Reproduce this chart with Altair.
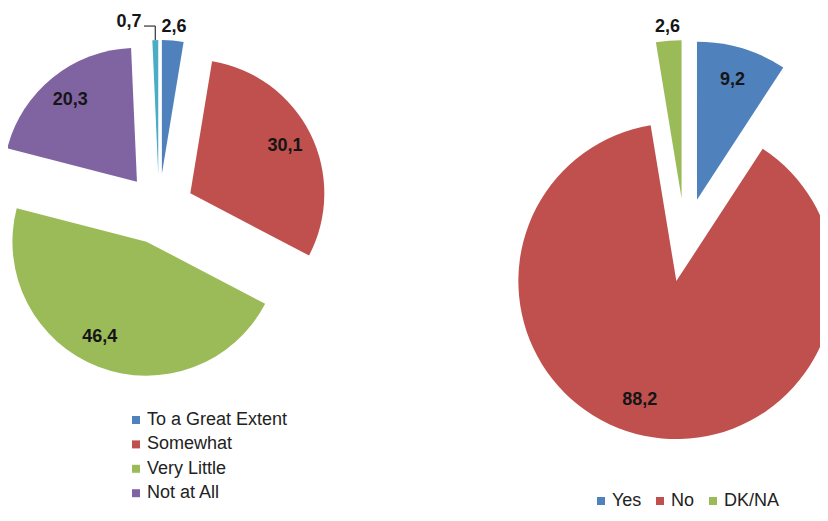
import altair as alt
import pandas as pd

# ---- data ----
left_categories = ["To a Great Extent", "Somewhat", "Very Little", "Not at All", "DK/NA"]
left_values = [2.6, 30.1, 46.4, 20.3, 0.7]
left_legend_items = ["To a Great Extent", "Somewhat", "Very Little", "Not at All"]

right_categories = ["Yes", "No", "DK/NA"]
right_values = [9.2, 88.2, 2.6]

# ---- styles ----
left_colors = ["#4F81BD", "#C0504D", "#9BBB59", "#8064A2", "#4BACC6"]
right_colors = ["#4F81BD", "#C0504D", "#9BBB59"]
FONT = "Liberation Sans"
MARGIN = 8
W, H = 812, 505
# pie layout in page pixels: centre x, centre y, radius, explosion distance
LEFT = dict(cx=159, cy=209, r=134, d=35)
RIGHT = dict(cx=685, cy=240, r=158, d=42)


def pie_base(cats, vals, lay):
    df = pd.DataFrame({"cat": cats, "value": vals, "order": list(range(len(cats)))})
    cx, cy, r, d = lay["cx"] - MARGIN, lay["cy"] - MARGIN, lay["r"], lay["d"]
    return (
        alt.Chart(df)
        .transform_window(cum="sum(value)", sort=[alt.SortField("order")], frame=[None, 0])
        .transform_joinaggregate(total="sum(value)")
        .transform_calculate(t0="2*PI*(datum.cum-datum.value)/datum.total")
        .transform_calculate(t1="2*PI*datum.cum/datum.total")
        .transform_calculate(mid="(datum.t0+datum.t1)/2")
        .transform_calculate(share="datum.value/datum.total")
        .transform_calculate(sx=f"{cx}+{d}*sin(datum.mid)")
        .transform_calculate(sy=f"{cy}-{d}*cos(datum.mid)")
        .transform_calculate(label="replace(format(datum.value, '.1f'), '.', ',')")
        .transform_calculate(lr=f"datum.share < 0.05 ? {r}+14 : {r}*0.79")
        .transform_calculate(la="datum.share > 0.4 ? datum.mid + 0.09 : datum.mid")
        .transform_calculate(
            lx="datum.sx + datum.lr*sin(datum.la) + (datum.share < 0.01 ? -26 : 0)"
        )
        .transform_calculate(
            ly="datum.sy - datum.lr*cos(datum.la) + (datum.share < 0.01 ? -4 : 0)"
        )
        .transform_calculate(tipx=f"datum.sx + {r}*sin(datum.mid)")
        .transform_calculate(tipy=f"datum.sy - {r}*cos(datum.mid)")
    )


def pie_layers(cats, vals, lay, colors, legend):
    base = pie_base(cats, vals, lay)
    arcs = base.mark_arc(radius=lay["r"]).encode(
        x=alt.X("sx:Q", scale=None, axis=None),
        y=alt.Y("sy:Q", scale=None, axis=None),
        theta=alt.Theta("t0:Q", scale=None, stack=False),
        theta2="t1:Q",
        color=alt.Color("cat:N", scale=alt.Scale(domain=cats, range=colors), legend=legend),
    )
    labels = base.mark_text(
        font=FONT, fontSize=18, fontWeight="bold", color="#151515",
        align="center", baseline="middle",
    ).encode(
        x=alt.X("lx:Q", scale=None, axis=None),
        y=alt.Y("ly:Q", scale=None, axis=None),
        text="label:N",
    )
    tiny = base.transform_filter("datum.share < 0.01")
    lead_h = tiny.transform_calculate(ry="datum.ly+4", rx="datum.lx+15").mark_rule(
        color="#333", strokeWidth=1.2
    ).encode(
        x=alt.X("rx:Q", scale=None, axis=None),
        x2="tipx:Q",
        y=alt.Y("ry:Q", scale=None, axis=None),
    )
    lead_v = tiny.transform_calculate(ry="datum.ly+4").mark_rule(
        color="#333", strokeWidth=1.2
    ).encode(
        x=alt.X("tipx:Q", scale=None, axis=None),
        y=alt.Y("ry:Q", scale=None, axis=None),
        y2="tipy:Q",
    )
    return [arcs, labels, lead_h, lead_v]


legend_common = dict(
    title=None,
    orient="none",
    symbolType="square",
    symbolSize=64,
    symbolStrokeWidth=0,
    labelFont=FONT,
    labelFontSize=18,
    labelColor="#222222",
    labelOffset=2,
    padding=0,
)

left_legend = alt.Legend(
    values=left_legend_items,
    direction="vertical",
    legendX=119,
    legendY=403,
    rowPadding=6.4,
    **legend_common,
)
right_legend = alt.Legend(
    direction="horizontal",
    legendX=584,
    legendY=484,
    columnPadding=9,
    **legend_common,
)

layers = pie_layers(left_categories, left_values, LEFT, left_colors, left_legend)
layers += pie_layers(right_categories, right_values, RIGHT, right_colors, right_legend)

chart = (
    alt.layer(*layers)
    .resolve_scale(color="independent")
    .properties(width=W, height=H, autosize=alt.AutoSizeParams(type="none"), padding=0)
    .configure_view(strokeWidth=0)
)

chart.save("out.html", embed_options={"renderer": "svg", "actions": False})
